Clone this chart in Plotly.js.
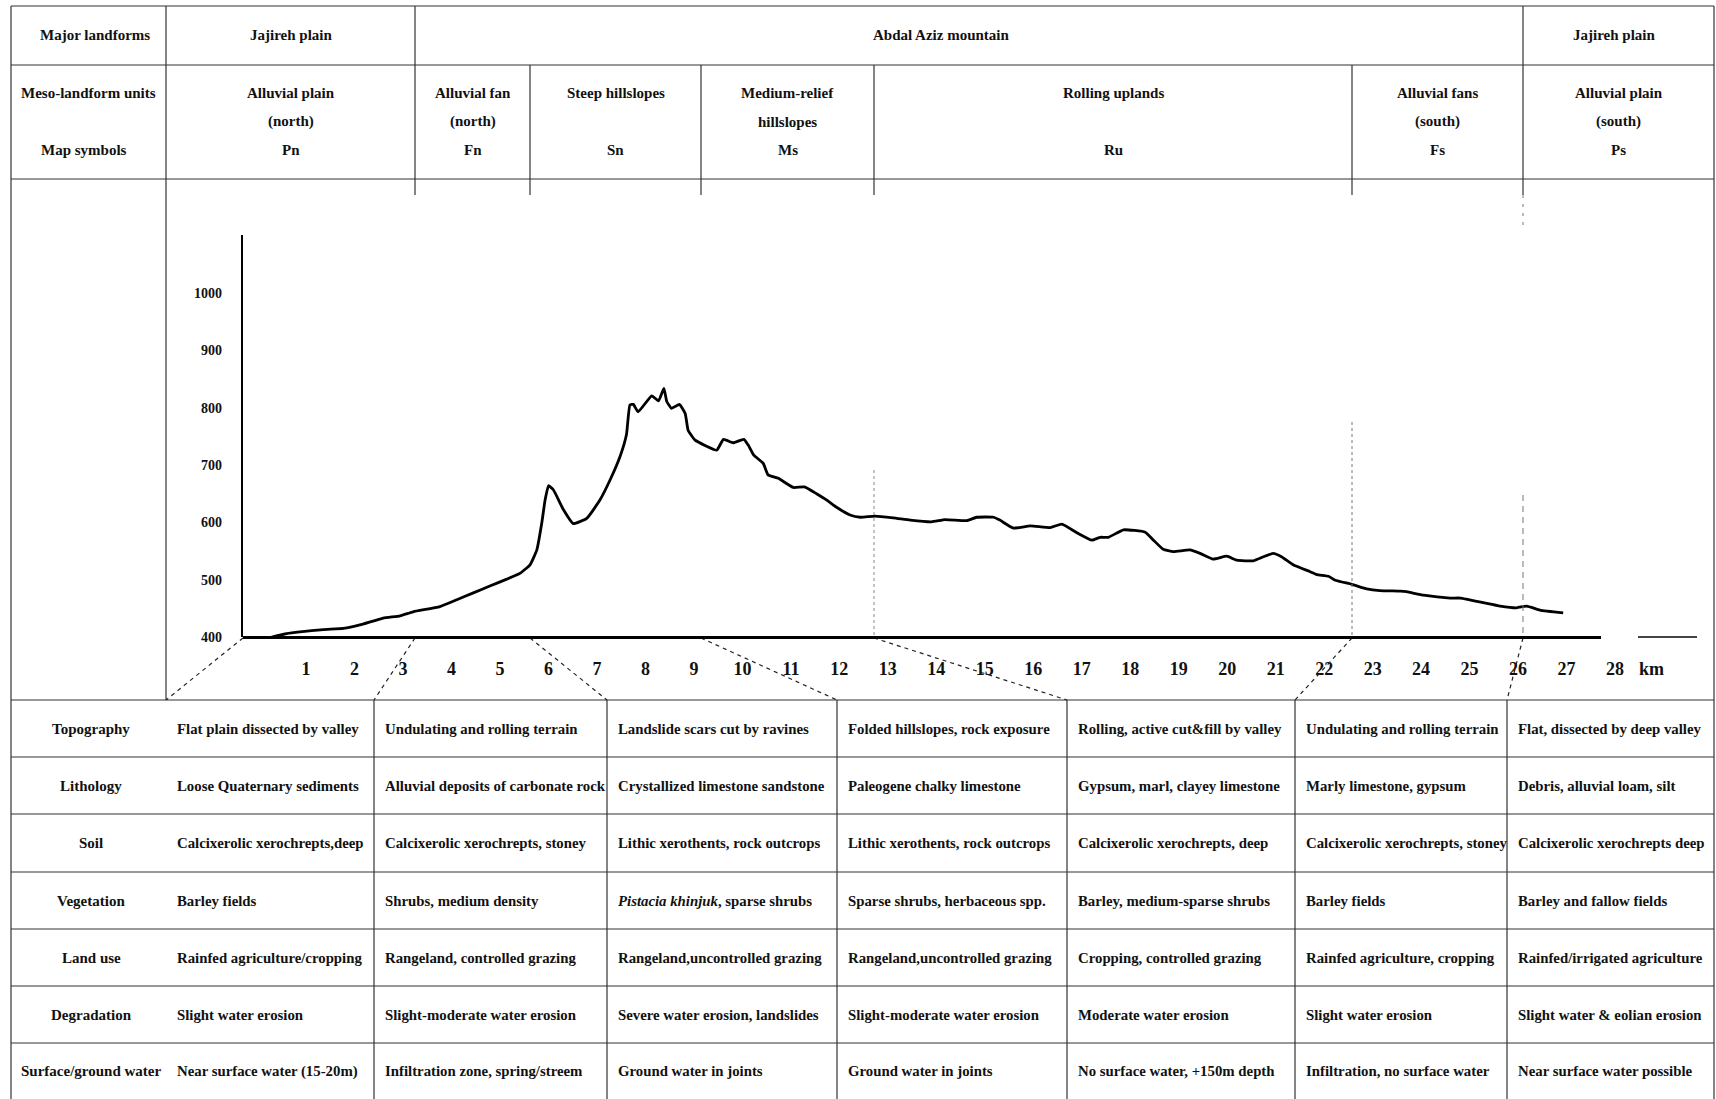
<!DOCTYPE html>
<html>
<head>
<meta charset="utf-8">
<script src="https://cdn.plot.ly/plotly-3.0.1.min.js"></script>
<style>html,body{margin:0;padding:0;background:#fff;}#chart{width:1716px;height:1099px;}</style>
</head>
<body>
<div id="chart"></div>
<script>
// ---------------- DATA ----------------
const distanceKm = [0.29,0.60,0.87,1.36,1.77,2.11,2.59,2.94,3.21,3.76,4.11,4.45,4.79,5.14,5.41,5.62,5.76,5.86,5.93,6.00,6.10,6.31,6.51,6.79,7.06,7.27,7.48,7.61,7.68,7.75,7.85,8.13,8.27,8.38,8.44,8.54,8.70,8.82,8.88,9.02,9.26,9.47,9.61,9.81,10.03,10.12,10.23,10.43,10.53,10.74,11.05,11.28,11.53,11.74,11.95,12.22,12.43,12.73,13.11,13.46,13.90,14.18,14.63,14.83,15.18,15.31,15.59,15.94,16.35,16.59,16.90,17.21,17.38,17.55,17.86,18.31,18.48,18.68,18.89,19.23,19.44,19.71,19.99,20.20,20.54,20.75,20.95,21.12,21.36,21.71,21.85,22.09,22.23,22.57,22.88,23.15,23.57,23.70,24.05,24.60,24.81,25.28,25.63,25.97,26.18,26.45,26.93];
const elevationM = [400,406,409,413,415,421,433,437,444,453,465,477,489,501,511,526,552,598,639,664,657,622,598,607,639,674,716,754,805,806,793,821,812,834,811,799,806,790,761,744,733,726,745,739,745,735,718,703,683,677,661,662,650,639,626,613,609,611,608,604,601,605,603,609,609,604,590,594,591,597,582,569,574,574,587,583,569,553,549,552,546,536,541,534,533,540,546,540,526,514,509,506,499,492,484,481,480,479,473,468,468,460,454,451,454,447,442];

const kmTickValues = [1,2,3,4,5,6,7,8,9,10,11,12,13,14,15,16,17,18,19,20,21,22,23,24,25,26,27,28];
const kmTickLabels = ['1','2','3','4','5','6','7','8','9','10','11','12','13','14','15','16','17','18','19','20','21','22','23','24','25','26','27','28'];
const elevTickValues = [400,500,600,700,800,900,1000];
const elevTickLabels = ['400','500','600','700','800','900','1000'];

const headerLabels = ['Major landforms','Meso-landform units','Map symbols'];
const majorLandforms = ['Jajireh plain','Abdal Aziz mountain','Jajireh plain'];
const mesoLine1 = ['Alluvial plain','Alluvial fan','Steep hillslopes','Medium-relief','Rolling uplands','Alluvial fans','Alluvial plain'];
const mesoLine2 = ['(north)','(north)','','hillslopes','','(south)','(south)'];
const mapSymbols = ['Pn','Fn','Sn','Ms','Ru','Fs','Ps'];

const attributeNames = ['Topography','Lithology','Soil','Vegetation','Land use','Degradation','Surface/ground water'];
const topography = ['Flat plain dissected by valley','Undulating and rolling terrain','Landslide scars cut by ravines','Folded hillslopes, rock exposure','Rolling, active cut&fill by valley','Undulating and rolling terrain','Flat, dissected by deep valley'];
const lithology = ['Loose Quaternary sediments','Alluvial deposits of carbonate rock','Crystallized limestone sandstone','Paleogene chalky limestone','Gypsum, marl, clayey limestone','Marly limestone, gypsum','Debris, alluvial loam, silt'];
const soil = ['Calcixerolic xerochrepts,deep','Calcixerolic xerochrepts, stoney','Lithic xerothents, rock outcrops','Lithic xerothents, rock outcrops','Calcixerolic xerochrepts, deep','Calcixerolic xerochrepts, stoney','Calcixerolic xerochrepts deep'];
const vegetation = ['Barley fields','Shrubs, medium density','<i>Pistacia khinjuk</i>, sparse shrubs','Sparse shrubs, herbaceous spp.','Barley, medium-sparse shrubs','Barley fields','Barley and fallow fields'];
const landUse = ['Rainfed agriculture/cropping','Rangeland, controlled grazing','Rangeland,uncontrolled grazing','Rangeland,uncontrolled grazing','Cropping, controlled grazing','Rainfed agriculture, cropping','Rainfed/irrigated agriculture'];
const degradation = ['Slight water erosion','Slight-moderate water erosion','Severe water erosion, landslides','Slight-moderate water erosion','Moderate water erosion','Slight water erosion','Slight water & eolian erosion'];
const surfaceWater = ['Near surface water (15-20m)','Infiltration zone, spring/streem','Ground water in joints','Ground water in joints','No surface water, +150m depth','Infiltration, no surface water','Near surface water possible'];

// ---------------- LAYOUT ----------------
const W = 1716, H = 1099;
const X = p => p / W;
const Y = p => 1 - p / H;
const FONT = 'Liberation Serif, Times New Roman, serif';
const INK = '#111';

// x axis: 0 km at 257.6 px, 48.48 px per km; plot spans 243..1640 px
const KM0 = 257.6, PXKM = 48.48;
const plotLeft = 243, plotRight = 1640;
const hdrCols = [11,166,415,530,701,874,1352,1523,1714];
const majorX = [291,941,1614];
const tblCols = [11,166,374,607,837,1067,1295,1507,1714];
const tblRows = [700,757,814,872,929,986,1043,1099];

const annotations = [];
function txt(x, y, text, opts) {
  opts = opts || {};
  annotations.push({
    xref:'paper', yref:'paper', x:X(x), y:Y(y), text:text, showarrow:false,
    xanchor: opts.xanchor || 'center', yanchor:'middle',
    font:{family:FONT, size: opts.size || 15, color:INK, weight:'bold'}
  });
}
// header labels
txt(95, 35, headerLabels[0]);
txt(88, 93, headerLabels[1]);
txt(84, 150, headerLabels[2]);
majorLandforms.forEach((t,i) => txt(majorX[i], 35, t));
for (let i = 0; i < mapSymbols.length; i++) {
  const cx = (hdrCols[i+1] + hdrCols[i+2]) / 2;
  txt(cx, 93, mesoLine1[i]);
  if (mesoLine2[i]) txt(cx, 121.5, mesoLine2[i]);
  txt(cx, 150, mapSymbols[i]);
}
// bottom table
const tableRows = [topography, lithology, soil, vegetation, landUse, degradation, surfaceWater];
tableRows.forEach((row, r) => {
  const cy = (tblRows[r] + tblRows[r+1]) / 2;
  txt(91, cy, attributeNames[r]);
  row.forEach((t, c) => txt(tblCols[c+1] + 9, cy, t, {xanchor:'left', size:14.8}));
});
// km unit label
txt(1651, 669, 'km', {size:18});

const shapes = [];
function line(x0,y0,x1,y1,opts) {
  opts = opts || {};
  shapes.push({type:'line', xref:'paper', yref:'paper', x0:X(x0), y0:Y(y0), x1:X(x1), y1:Y(y1),
    line:{color: opts.color || '#333', width: opts.width || 1.2, dash: opts.dash || 'solid'}});
}
// header grid
[6,65,179].forEach(y => line(11,y,1714,y));
line(11,6,11,1099);
line(1714,6,1714,1099);
line(166,6,166,700);
line(415,6,415,195);
line(1523,6,1523,195);
[530,701,874,1352].forEach(x => line(x,65,x,195));
// bottom table grid
tblRows.slice(0,7).forEach(y => line(11,y,1714,y));
tblCols.slice(2,8).forEach(x => line(x,700,x,1099));
// connecting dashed diagonals
const dsh = {dash:'4px,4px', width:1.2, color:'#222'};
line(243,638,166,700,dsh);
line(415,638,374,700,dsh);
line(530,638,607,700,dsh);
line(701,638,837,700,dsh);
line(874,638,1067,700,dsh);
line(1352,638,1295,700,dsh);
line(1523,638,1507,700,dsh);
// faint unit boundaries in the chart
line(874,470,874,637,{dash:'dot', width:1, color:'#888'});
line(1352,422,1352,637,{dash:'3px,3px', width:1, color:'#777'});
line(1523,195,1523,228,{dash:'3px,6px', width:1, color:'#777'});
line(1523,495,1523,637,{dash:'6px,5px', width:1, color:'#777'});
// baseline of the profile (drawn piece + detached piece)
line(243,637.5,1601,637.5,{width:3, color:'#000'});
line(1638,637,1697,637,{width:2, color:'#444'});

const trace = {
  x: distanceKm, y: elevationM, type:'scatter', mode:'lines',
  line:{color:'#000', width:2.8, shape:'spline', smoothing:0.4},
  hoverinfo:'x+y', showlegend:false
};

const layout = {
  width:W, height:H, margin:{l:0,r:0,t:0,b:0},
  paper_bgcolor:'#fff', plot_bgcolor:'rgba(0,0,0,0)',
  showlegend:false,
  xaxis:{
    domain:[X(plotLeft), X(plotRight)],
    range:[(plotLeft-KM0)/PXKM, (plotRight-KM0)/PXKM],
    showgrid:false, zeroline:false, showline:false,
    ticks:'', tickmode:'array', tickvals:kmTickValues, ticktext:kmTickLabels,
    ticklabelstandoff:19,
    tickfont:{family:FONT, size:18, color:INK, weight:'bold'}, fixedrange:true
  },
  yaxis:{
    domain:[Y(637), Y(235)], range:[400, 1101.6],
    showgrid:false, zeroline:false, showline:true, linecolor:'#000', linewidth:2.2,
    ticks:'', tickmode:'array', tickvals:elevTickValues, ticktext:elevTickLabels,
    ticklabelstandoff:16,
    tickfont:{family:FONT, size:14, color:INK, weight:'bold'}, fixedrange:true
  },
  shapes:shapes, annotations:annotations
};

Plotly.newPlot('chart', [trace], layout, {displayModeBar:false, staticPlot:true});
</script>
</body>
</html>
